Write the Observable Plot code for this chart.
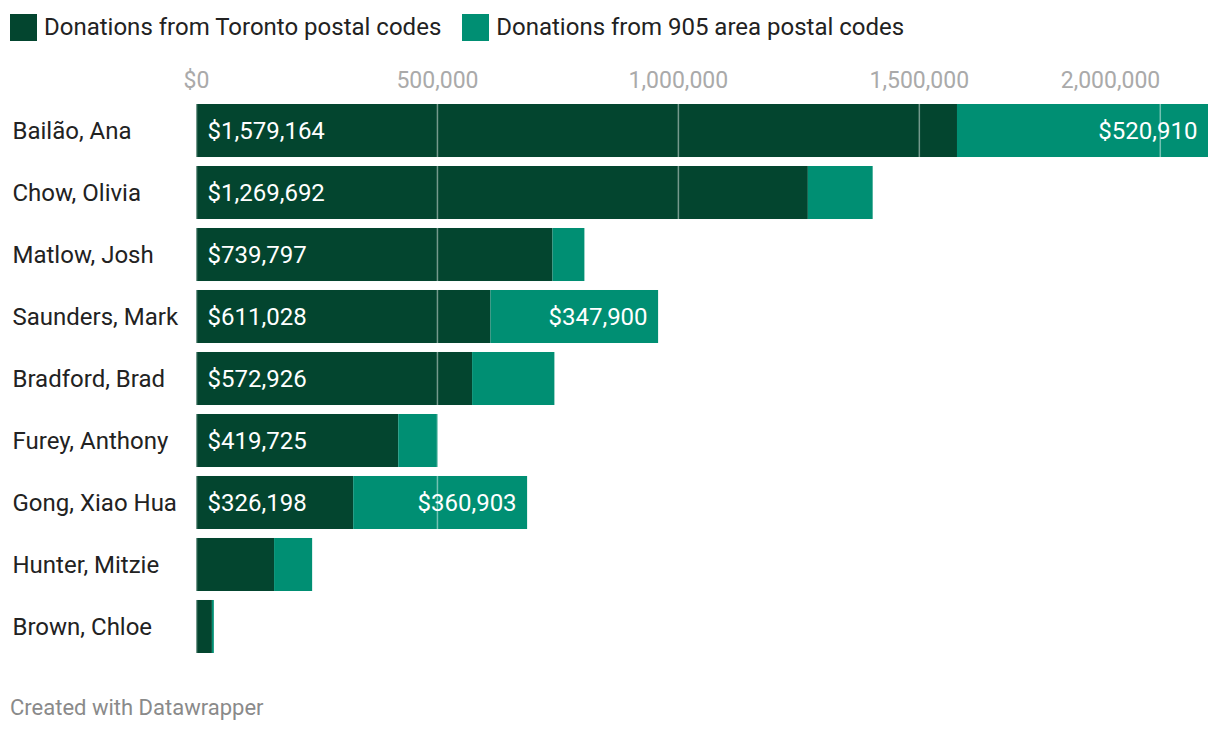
<!DOCTYPE html>
<html>
<head>
<meta charset="utf-8">
<script src="https://cdn.jsdelivr.net/npm/d3@7"></script>
<script src="https://cdn.jsdelivr.net/npm/@observablehq/plot@0.6"></script>
<style>
  body { margin: 0; background: #fff; font-family: Roboto, "Noto Sans", sans-serif; width: 1220px; height: 732px; overflow: hidden; }
  .legend { height: 54px; display: flex; align-items: center; padding-left: 10px; font-size: 24px; color: #222; }
  .legend .item { display: flex; align-items: center; margin-right: 21px; }
  .legend .sw { width: 27px; height: 27px; margin-right: 7px; }
  #chart svg { display: block; }
  .footer { padding-left: 10px; font-size: 22px; color: #8a8a8a; margin-top: 23px; }
</style>
</head>
<body>
<div class="legend" id="legend"></div>
<div id="chart"></div>
<div class="footer">Created with Datawrapper</div>
<script>
const candidates = ["Bailão, Ana", "Chow, Olivia", "Matlow, Josh", "Saunders, Mark", "Bradford, Brad", "Furey, Anthony", "Gong, Xiao Hua", "Hunter, Mitzie", "Brown, Chloe"];
const toronto = [1579164, 1269692, 739797, 611028, 572926, 419725, 326198, 162000, 33000];
const area905 = [520910, 134500, 66200, 347900, 170800, 82000, 360903, 79000, 4000];
const seriesNames = ["Donations from Toronto postal codes", "Donations from 905 area postal codes"];
const seriesColors = ["#03452f", "#008f73"];
const xTicks = [0, 500000, 1000000, 1500000, 2000000];

const rows = [];
candidates.forEach((c, i) => {
  rows.push({name: c, series: seriesNames[0], value: toronto[i], total: toronto[i]});
  rows.push({name: c, series: seriesNames[1], value: area905[i], total: toronto[i] + area905[i]});
});
const fmt = d3.format(",");
const money = v => "$" + fmt(v);
const tickFmt = d => d === 0 ? "$0" : fmt(d);

const legend = document.getElementById("legend");
seriesNames.forEach((s, i) => {
  const it = document.createElement("div");
  it.className = "item";
  it.innerHTML = `<div class="sw" style="background:${seriesColors[i]}"></div><span>${s}</span>`;
  legend.appendChild(it);
});

const maxTotal = d3.max(rows.filter(r => r.series === seriesNames[1]), r => r.total);

const plot = Plot.plot({
  width: 1220,
  height: 618,
  marginLeft: 196,
  marginRight: 12,
  marginTop: 50,
  marginBottom: 19,
  style: {fontFamily: "Roboto, sans-serif", background: "transparent"},
  x: {domain: [0, maxTotal], axis: null},
  y: {domain: candidates, paddingInner: 0.145, paddingOuter: 0, round: false, axis: null, label: null},
  color: {domain: seriesNames, range: seriesColors},
  marks: [
    Plot.barX(rows, {y: "name", x: "value", fill: "series", order: seriesNames}),
    Plot.gridX(xTicks, {stroke: "white", strokeOpacity: 0.45, strokeWidth: 1.5}),
    Plot.axisX({anchor: "top", ticks: xTicks.slice(0, -1), tickSize: 0, tickPadding: 17, fontSize: 23, fill: "#aaa",
      tickFormat: tickFmt, label: null}),
    Plot.axisX({anchor: "top", ticks: xTicks.slice(-1), tickSize: 0, tickPadding: 17, fontSize: 23, fill: "#aaa",
      tickFormat: tickFmt, textAnchor: "end", label: null}),
    Plot.axisY({anchor: "left", tickSize: 0, tickPadding: 184, textAnchor: "start", fontSize: 24, fill: "#222", label: null}),
    Plot.text(rows.filter(r => r.series === seriesNames[0] && r.value > 250000),
      {y: "name", x: 0, text: d => money(d.value), textAnchor: "start", dx: 11, fill: "white", fontSize: 24}),
    Plot.text(rows.filter(r => r.series === seriesNames[1] && r.value > 250000),
      {y: "name", x: "total", text: d => money(d.value), textAnchor: "end", dx: -11, fill: "white", fontSize: 24})
  ]
});
document.getElementById("chart").appendChild(plot);
</script>
</body>
</html>
